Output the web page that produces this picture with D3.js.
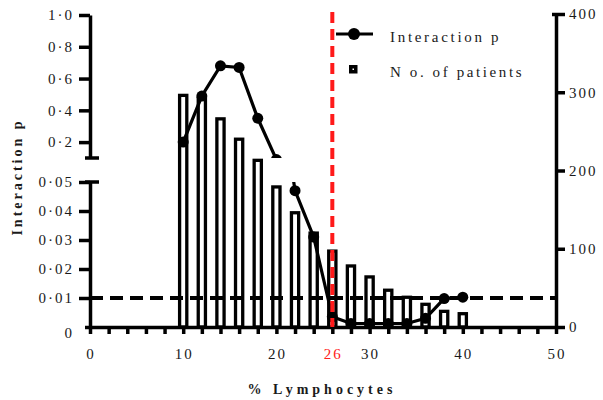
<!doctype html>
<html>
<head>
<meta charset="utf-8">
<script src="https://d3js.org/d3.v7.min.js"></script>
<style>
  body { margin: 0; background: #fff; }
  text { font-family: "Liberation Serif", "DejaVu Serif", serif; }
</style>
</head>
<body>
<div id="chart"></div>
<script>
// % lymphocytes (bar / point positions)
var lymph = [10, 12, 14, 16, 18, 20, 22, 24, 26, 28, 30, 32, 34, 36, 38, 40];
// number of patients (right axis)
var patients = [296, 292, 266, 240, 213, 179, 146, 120, 97, 78, 64, 47, 38, 29, 20, 17];
// interaction p (left, broken axis)
var interP = [0.2, 0.49, 0.68, 0.67, 0.35, 0.09, 0.047, 0.031, 0.0035, 0.0012, 0.0012, 0.0012, 0.0012, 0.003, 0.0098, 0.0103];

var xTicks = d3.range(0, 51, 2);
var xLabels = [0, 10, 20, 30, 40, 50];
var yTopTicks = [0.2, 0.4, 0.6, 0.8, 1.0];
var yBotTicks = [0, 0.01, 0.02, 0.03, 0.04, 0.05];
var yRightTicks = [0, 100, 200, 300, 400];
var cutOff = 26;
var pLine = 0.01;

var W = 603, H = 400;
var svg = d3.select("#chart").append("svg").attr("width", W).attr("height", H);

var x = d3.scaleLinear().domain([0, 50]).range([90, 556]);
var yR = d3.scaleLinear().domain([0, 400]).range([327, 14]);
var yTop = d3.scaleLinear().domain([0.1, 1.0]).range([158, 15]);
var yBot = d3.scaleLinear().domain([0, 0.05]).range([327, 182]);

var fmt = function(d) { return d === 0 ? "0" : d3.format(d < 0.1 ? ".2f" : ".1f")(d).replace(".", "·"); };

function styleAxis(g) {
  g.select(".domain").attr("stroke", "#000").attr("stroke-width", 3.5);
  g.selectAll(".tick line").attr("stroke", "#000").attr("stroke-width", 3.5);
  g.selectAll("text").attr("font-size", 15).attr("fill", "#1a1a1a").attr("letter-spacing", 2)
    .attr("font-family", "Liberation Serif");
}

// clip areas for the two panels of the broken axis
var defs = svg.append("defs");
defs.append("clipPath").attr("id", "clipTop").append("rect")
  .attr("x", 0).attr("y", 0).attr("width", W).attr("height", 158);
defs.append("clipPath").attr("id", "clipBot").append("rect")
  .attr("x", 0).attr("y", 182).attr("width", W).attr("height", H - 182);

// bars
svg.append("g").selectAll("rect").data(lymph).join("rect")
  .attr("x", function(d) { return x(d) - 3.6; })
  .attr("width", 7.2)
  .attr("y", function(d, i) { return yR(patients[i]); })
  .attr("height", function(d, i) { return yR(0) - yR(patients[i]); })
  .attr("fill", "none").attr("stroke", "#000").attr("stroke-width", 3.3);

// horizontal dashed line at p = 0.01
svg.append("line")
  .attr("x1", x(0)).attr("x2", x(50))
  .attr("y1", yBot(pLine)).attr("y2", yBot(pLine))
  .attr("stroke", "#000").attr("stroke-width", 4).attr("stroke-dasharray", "13,7");

// interaction p line, drawn in both panels
var pts = lymph.map(function(d, i) { return [d, interP[i]]; });
[["clipTop", yTop], ["clipBot", yBot]].forEach(function(p) {
  var ys = p[1];
  var g = svg.append("g").attr("clip-path", "url(#" + p[0] + ")");
  g.append("path").datum(pts)
    .attr("d", d3.line().x(function(d) { return x(d[0]); }).y(function(d) { return ys(d[1]); }))
    .attr("fill", "none").attr("stroke", "#000").attr("stroke-width", 3.2);
  g.selectAll("circle").data(pts).join("circle")
    .attr("cx", function(d) { return x(d[0]); })
    .attr("cy", function(d) { return ys(d[1]); })
    .attr("r", 5.5).attr("fill", "#000");
});

// x axis
var gx = svg.append("g").attr("transform", "translate(0," + yBot(0) + ")")
  .call(d3.axisBottom(x).tickValues(xTicks).tickSize(7).tickSizeOuter(0).tickFormat(""));
styleAxis(gx);
svg.append("g").selectAll("text").data(xLabels).join("text")
  .attr("x", function(d) { return x(d) + 1; }).attr("y", 359)
  .attr("text-anchor", "middle").attr("font-size", 15).attr("letter-spacing", 2).attr("fill", "#1a1a1a")
  .text(function(d) { return d; });
svg.append("text").attr("x", x(cutOff) + 1).attr("y", 359)
  .attr("text-anchor", "middle").attr("font-size", 15).attr("letter-spacing", 2).attr("fill", "#ff2020")
  .text(cutOff);

// left axis, upper panel
var gt = svg.append("g").attr("transform", "translate(" + x(0) + ",0)")
  .call(d3.axisLeft(yTop).tickValues(yTopTicks).tickSize(11).tickSizeOuter(0).tickPadding(5).tickFormat(fmt));
styleAxis(gt);
svg.append("line").attr("x1", x(0) - 5).attr("x2", x(0) + 9)
  .attr("y1", yTop(0.1)).attr("y2", yTop(0.1)).attr("stroke", "#000").attr("stroke-width", 3.5);

// left axis, lower panel
var gb = svg.append("g").attr("transform", "translate(" + x(0) + ",0)")
  .call(d3.axisLeft(yBot).tickValues(yBotTicks).tickSize(11).tickSizeOuter(0).tickPadding(5).tickFormat(fmt));
styleAxis(gb);
gb.selectAll(".tick").filter(function(d) { return d === 0; }).select("line").attr("x2", -5);
gb.selectAll(".tick").filter(function(d) { return d === 0; }).select("text").attr("dy", "0.7em");
svg.append("line").attr("x1", x(0) - 5).attr("x2", x(0) + 9)
  .attr("y1", yBot(0.05)).attr("y2", yBot(0.05)).attr("stroke", "#000").attr("stroke-width", 3.5);

// right axis
var gr = svg.append("g").attr("transform", "translate(" + x(50) + ",0)")
  .call(d3.axisRight(yR).tickValues(yRightTicks).tickSize(9).tickSizeOuter(0).tickPadding(4));
styleAxis(gr);
gr.selectAll(".tick").filter(function(d) { return d === 400; }).select("line").attr("x1", -4);

// red cut-off line
svg.append("line")
  .attr("x1", x(cutOff)).attr("x2", x(cutOff))
  .attr("y1", 12).attr("y2", yBot(0))
  .attr("stroke", "#ff1a1a").attr("stroke-width", 4).attr("stroke-dasharray", "11,6");

// axis titles
svg.append("text").attr("x", 322).attr("y", 394).attr("text-anchor", "middle")
  .attr("font-size", 14).attr("font-weight", "bold").attr("letter-spacing", 4).attr("fill", "#1a1a1a")
  .text("% Lymphocytes");
svg.append("text").attr("transform", "translate(22,177) rotate(-90)").attr("text-anchor", "middle")
  .attr("font-size", 14).attr("font-weight", "bold").attr("letter-spacing", 3).attr("fill", "#1a1a1a")
  .text("Interaction p");

// legend
var lg = svg.append("g");
lg.append("line").attr("x1", 336).attr("x2", 373).attr("y1", 34).attr("y2", 34)
  .attr("stroke", "#000").attr("stroke-width", 3.2);
lg.append("circle").attr("cx", 354).attr("cy", 34).attr("r", 6).attr("fill", "#000");
lg.append("rect").attr("x", 349).attr("y", 65).attr("width", 8.5).attr("height", 8.5).attr("fill", "#000");
lg.append("rect").attr("x", 352.5).attr("y", 68.5).attr("width", 1.5).attr("height", 1.5).attr("fill", "#fff");
lg.append("text").attr("x", 390).attr("y", 42).attr("font-size", 15).attr("letter-spacing", 2.7).attr("fill", "#1a1a1a")
  .text("Interaction p");
lg.append("text").attr("x", 390).attr("y", 77).attr("font-size", 15).attr("letter-spacing", 2.6).attr("fill", "#1a1a1a")
  .text("N o. of patients");
</script>
</body>
</html>
